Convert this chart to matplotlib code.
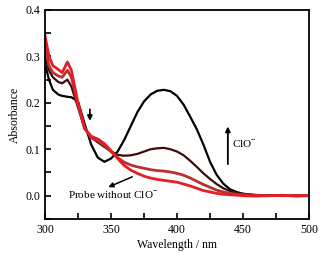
import matplotlib
matplotlib.use("Agg")
from matplotlib import pyplot as plt
from matplotlib.ticker import MultipleLocator

plt.rcParams['font.family'] = ['Liberation Serif', 'DejaVu Serif']
plt.rcParams['font.size'] = 8
plt.rcParams['mathtext.fontset'] = 'custom'
plt.rcParams['mathtext.rm'] = 'Liberation Serif'

wl = [300, 303, 306, 310, 313, 317, 320, 325, 330, 335, 340, 345, 350, 355, 360,
      365, 370, 375, 380, 385, 390, 395, 400, 405, 410, 415, 420, 425, 430, 435,
      440, 445, 450, 460, 470, 480, 490, 500]

abs_clo_high = [0.285, 0.25, 0.228, 0.218, 0.215, 0.213, 0.212, 0.203, 0.155, 0.11,
                0.082, 0.073, 0.08, 0.095, 0.12, 0.15, 0.18, 0.203, 0.218, 0.226,
                0.228, 0.225, 0.215, 0.196, 0.17, 0.143, 0.11, 0.073, 0.045, 0.026,
                0.014, 0.008, 0.004, 0.001, 0.0, 0.0, 0.0, 0.0]
abs_clo_mid = [0.30, 0.27, 0.255, 0.245, 0.242, 0.25, 0.235, 0.19, 0.145, 0.125,
               0.115, 0.105, 0.095, 0.088, 0.086, 0.087, 0.09, 0.095, 0.1, 0.102,
               0.103, 0.1, 0.095, 0.087, 0.075, 0.062, 0.048, 0.036, 0.025, 0.016,
               0.01, 0.006, 0.004, 0.001, 0.0, 0.0, 0.0, 0.0]
abs_clo_low = [0.32, 0.28, 0.265, 0.258, 0.255, 0.27, 0.255, 0.195, 0.145, 0.125,
               0.118, 0.108, 0.095, 0.082, 0.072, 0.066, 0.062, 0.059, 0.056, 0.054,
               0.053, 0.051, 0.048, 0.044, 0.038, 0.031, 0.024, 0.018, 0.012, 0.008,
               0.005, 0.003, 0.002, 0.001, 0.0, 0.0, 0.0, 0.0]
abs_probe = [0.345, 0.30, 0.28, 0.272, 0.265, 0.288, 0.27, 0.20, 0.145, 0.128,
             0.122, 0.112, 0.097, 0.08, 0.065, 0.055, 0.048, 0.042, 0.038, 0.035,
             0.033, 0.031, 0.029, 0.025, 0.021, 0.016, 0.011, 0.008, 0.005, 0.003,
             0.002, 0.001, 0.0, -0.001, 0.0, 0.001, -0.001, 0.0]

fig = plt.figure(figsize=(3.26, 2.56), dpi=100)
ax = fig.add_axes([0.138, 0.145, 0.810, 0.816])

ax.plot(wl, abs_clo_high, color='black', lw=1.6)
ax.plot(wl, abs_clo_mid, color='#3b0d0d', lw=1.6)
ax.plot(wl, abs_clo_low, color='#b8302f', lw=2.0)
ax.plot(wl, abs_probe, color='#e41e26', lw=2.0)

ax.set_xlim(300, 500)
ax.set_ylim(-0.05, 0.4)
ax.xaxis.set_major_locator(MultipleLocator(50))
ax.xaxis.set_minor_locator(MultipleLocator(25))
ax.yaxis.set_major_locator(MultipleLocator(0.1))
ax.yaxis.set_minor_locator(MultipleLocator(0.05))
ax.yaxis.set_major_formatter(plt.FormatStrFormatter('%.1f'))
ax.tick_params(which='both', direction='in', length=4, width=1.2, top=False, right=False,
               labelsize=8.5)
for s in ax.spines.values():
    s.set_linewidth(1.3)

ax.set_xlabel('Wavelength / nm', labelpad=2, fontsize=8.5)
ax.set_ylabel('Absorbance', labelpad=3, fontsize=8.5)

# arrows and labels
ax.annotate('', xy=(334, 0.155), xytext=(334, 0.192),
            arrowprops=dict(arrowstyle='-|>', color='black', lw=1.3, mutation_scale=7))
ax.annotate('', xy=(438.5, 0.155), xytext=(438.5, 0.062),
            arrowprops=dict(arrowstyle='-|>', color='black', lw=1.3, mutation_scale=7))
ax.text(442, 0.11, 'ClO$^{-}$', ha='left', va='center', fontsize=8)
ax.annotate('', xy=(346, 0.016), xytext=(368, 0.043),
            arrowprops=dict(arrowstyle='-|>', color='black', lw=1.1, mutation_scale=7))
ax.text(317.5, 0.0, 'Probe without ClO$^{-}$', ha='left', va='center', fontsize=8)

fig.savefig('out.png', dpi=100)
